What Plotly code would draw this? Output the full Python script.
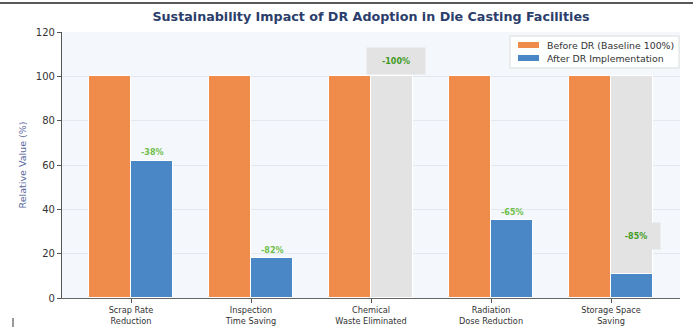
import plotly.graph_objects as go

# Metrics compared before and after digital radiography (DR) adoption
categories = ["Scrap Rate<br>Reduction", "Inspection<br>Time Saving",
              "Chemical<br>Waste Eliminated", "Radiation<br>Dose Reduction",
              "Storage Space<br>Saving"]
before_dr = [100, 100, 100, 100, 100]
after_dr = [62, 18, 0, 35, 11]
reduction_labels = ["-38%", "-82%", "-100%", "-65%", "-85%"]
y_ticks = [0, 20, 40, 60, 80, 100, 120]
series_names = ["Before DR (Baseline 100%)", "After DR Implementation"]

ORANGE = "#F08C4B"
BLUE = "#4A87C6"
GREY = "#E3E3E3"
FONT = "DejaVu Sans"

# plot-area geometry in pixels (used for the compact legend box)
L, R, T, B = 62, 680, 32, 298
W, H = R - L, B - T


def px(x):
    return (x - L) / W


def py(y):
    return (B - y) / H


bar_w = 0.35
xs = list(range(len(categories)))
x_before = [x - bar_w / 2 for x in xs]
x_after = [x + bar_w / 2 for x in xs]

# categories whose reduction is large get a boxed label and a full-height grey backdrop
boxed = [i for i, lab in enumerate(reduction_labels) if lab in ("-100%", "-85%")]

fig = go.Figure()

fig.add_trace(go.Bar(
    x=[x_after[i] for i in boxed], y=[before_dr[i] for i in boxed], width=bar_w,
    marker=dict(color=GREY, line=dict(color="white", width=1)),
    showlegend=False, hoverinfo="skip"))

fig.add_trace(go.Bar(
    x=x_before, y=before_dr, width=bar_w, name=series_names[0], showlegend=False,
    marker=dict(color=ORANGE, line=dict(color="white", width=1))))

fig.add_trace(go.Bar(
    x=x_after, y=after_dr, width=bar_w, name=series_names[1], showlegend=False,
    marker=dict(color=BLUE, line=dict(color="white", width=1))))

# reduction labels
for i, lab in enumerate(reduction_labels):
    if i in boxed:
        y = 107 if after_dr[i] == 0 else after_dr[i] + 17
        fig.add_annotation(
            x=x_after[i] + 0.03, y=y, text=f"<b>{lab}</b>", showarrow=False,
            font=dict(family=FONT, size=8, color="#3F9A1E"),
            bgcolor=GREY, borderpad=7, width=44 if len(lab) > 4 else 34, height=12)
    else:
        fig.add_annotation(
            x=x_after[i], y=after_dr[i] + 3.5, text=f"<b>{lab}</b>", showarrow=False,
            font=dict(family=FONT, size=8, color="#6DBF4A"))

# compact legend box (upper right)
fig.add_shape(type="rect", xref="paper", yref="paper",
              x0=px(510), x1=px(679), y0=py(68), y1=py(36),
              fillcolor="rgba(255,255,255,0.9)", line=dict(color="#DDDDDD", width=1))
for k, (name, col) in enumerate(zip(series_names, [ORANGE, BLUE])):
    cy = 45 + k * 13
    fig.add_shape(type="rect", xref="paper", yref="paper",
                  x0=px(518), x1=px(539), y0=py(cy + 3), y1=py(cy - 3),
                  fillcolor=col, line=dict(width=0))
    fig.add_annotation(xref="paper", yref="paper", x=px(545), y=py(cy),
                       xanchor="left", yanchor="middle", text=name, showarrow=False,
                       font=dict(family=FONT, size=9.4, color="#333333"))

fig.update_layout(
    width=693, height=329,
    margin=dict(l=L, r=693 - R, t=T, b=329 - B, autoexpand=False),
    paper_bgcolor="white",
    plot_bgcolor="#F4F7FB",
    barmode="overlay",
    bargap=0,
    showlegend=False,
    font=dict(family=FONT, size=10, color="#333333"),
    title=dict(text="<b>Sustainability Impact of DR Adoption in Die Casting Facilities</b>",
               x=(L + R) / 2 / 693, xanchor="center", y=1 - 17 / 329, yanchor="middle",
               font=dict(family=FONT, size=12.7, color="#2B3E6B")),
)

fig.update_xaxes(
    range=[-0.575, 4.575], tickmode="array", tickvals=xs, ticktext=categories,
    ticks="outside", ticklen=4, tickcolor="#555555", automargin=False,
    showline=True, linecolor="#666666", linewidth=1.2, showgrid=False, zeroline=False,
    tickfont=dict(family=FONT, size=8.2, color="#333333"))

fig.update_yaxes(
    range=[0, 120], tickmode="array", tickvals=y_ticks,
    ticks="outside", ticklen=4, tickcolor="#555555", automargin=False,
    showline=True, linecolor="#555555", linewidth=1.2,
    showgrid=True, gridcolor="#E4E8EE", gridwidth=1, zeroline=False,
    tickfont=dict(family=FONT, size=10, color="#333333"),
    title=dict(text="Relative Value (%)", standoff=7,
               font=dict(family=FONT, size=9.5, color="#5868A0")))

# thin rule along the top edge and a small tick at the lower left
fig.add_shape(type="line", xref="paper", yref="paper",
              x0=px(0), x1=px(693), y0=py(3), y1=py(3),
              line=dict(color="#222222", width=1.5))
fig.add_shape(type="line", xref="paper", yref="paper",
              x0=px(13), x1=px(13), y0=py(318), y1=py(327),
              line=dict(color="#333333", width=1))

fig.write_html("out.html")
